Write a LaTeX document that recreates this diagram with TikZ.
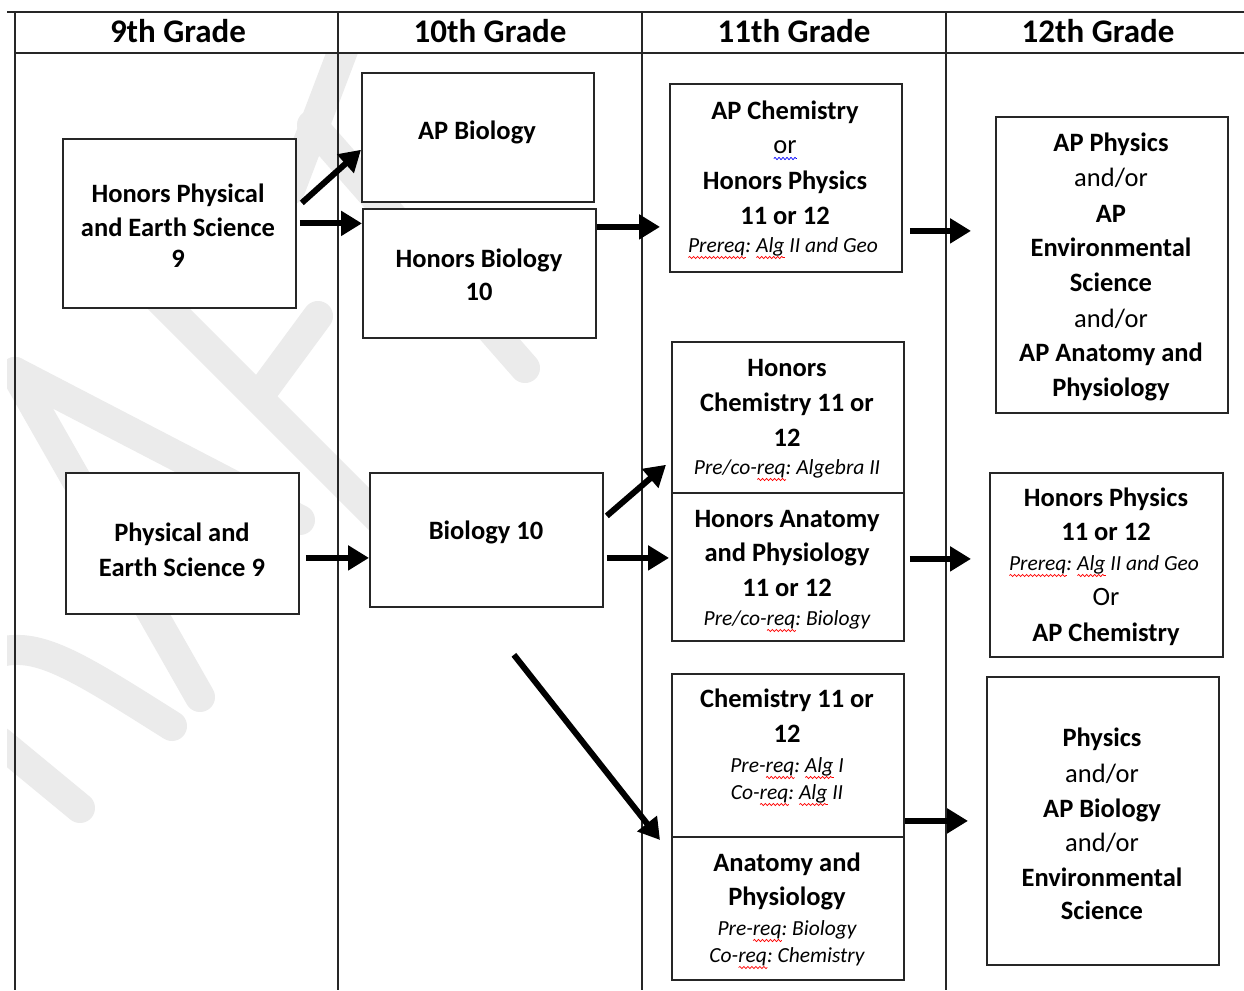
\documentclass[tikz,border=0pt]{standalone}
\usepackage{fontspec}
\setmainfont{Carlito}
\usetikzlibrary{arrows.meta,calc,decorations.pathmorphing}
\frenchspacing
\newsavebox\wvbox
\newlength\wvlen
\newcommand\wavy[2]{\sbox\wvbox{#2}\setlength\wvlen{\wd\wvbox}\rlap{\tikz[baseline=0pt]\draw[#1,line width=0.7pt,decorate,decoration={snake,amplitude=1.1pt,segment length=4pt}] (0pt,-5.5pt) -- (\wvlen,-5.5pt);}\usebox\wvbox}
\newcommand\rw[1]{\wavy{red}{#1}}
\newcommand\bw[1]{\wavy{blue}{#1}}
\begin{document}
\begin{tikzpicture}[x=1pt,y=-1pt,
  box/.style={draw=black!85, line width=1.8pt, fill=white, inner sep=0pt, anchor=north west},
  bt/.style={font=\fontsize{26.5}{30}\selectfont\bfseries\frenchspacing, anchor=base, inner sep=0pt},
  rt/.style={font=\fontsize{26.5}{30}\selectfont\frenchspacing, anchor=base, inner sep=0pt},
  it/.style={font=\fontsize{21.5}{26}\selectfont\itshape\frenchspacing, anchor=base, inner sep=0pt},
  hd/.style={font=\fontsize{33}{36}\selectfont\bfseries, anchor=base, inner sep=0pt},
  arr/.style={line width=6pt, draw=black, -{Triangle[length=21pt,width=24pt]}},
  wm/.style={line width=30pt, line cap=round, draw=black!8},
  gridline/.style={line width=1.8pt, draw=black!85}]
\fill[white] (0,0) rectangle (1244,990);
\useasboundingbox (0,0) rectangle (1244,990);
% watermark (partly hidden by the boxes)
\begin{scope}
  \clip (7,53) rectangle (1244,990);
  \draw[wm] (345,45) -- (290,190);
  \draw[wm] (312,125) -- (525,368);
  \draw[wm] (120,260) -- (420,560);
  \draw[wm] (262,392) -- (318,316);
  \draw[wm] (15,372) -- (200,697);
  \draw[wm] (15,372) -- (300,520);
  \draw[wm] (0,652) .. controls (40,642) and (80,668) .. (172,726);
  \draw[wm] (0,742) -- (80,808);
\end{scope}
% table grid
\draw[gridline] (7,12) -- (1244,12);
\draw[gridline] (15,53) -- (1244,53);
\draw[gridline] (15,12) -- (15,990);
\draw[gridline] (338,12) -- (338,990);
\draw[gridline] (642,12) -- (642,990);
\draw[gridline] (946,12) -- (946,990);
% headers
\node[hd] (h9) at (178,43) {9th Grade};
\node[hd] (h10) at (490,43) {10th Grade};
\node[hd] (h11) at (794,43) {11th Grade};
\node[hd] (h12) at (1098,43) {12th Grade};
% boxes
\node[box, minimum width=233pt, minimum height=169pt] (hpes) at (62,138) {};
\node[box, minimum width=232pt, minimum height=129pt] (apbio) at (361,72) {};
\node[box, minimum width=233pt, minimum height=129pt] (hbio) at (362,208) {};
\node[box, minimum width=233pt, minimum height=141pt] (pes) at (65,472) {};
\node[box, minimum width=233pt, minimum height=134pt] (bio) at (369,472) {};
\node[box, minimum width=232pt, minimum height=188pt] (apchem) at (669,83) {};
\node[box, minimum width=232pt, minimum height=151pt] (hchem) at (671,341) {};
\node[box, minimum width=232pt, minimum height=148pt] (hanat) at (671,492) {};
\node[box, minimum width=232pt, minimum height=163pt] (chem) at (671,673) {};
\node[box, minimum width=232pt, minimum height=143pt] (anat) at (671,836) {};
\node[box, minimum width=232pt, minimum height=296pt] (apphys) at (995,116) {};
\node[box, minimum width=233pt, minimum height=184pt] (hphys) at (989,472) {};
\node[box, minimum width=232pt, minimum height=288pt] (phys) at (986,676) {};
% arrows
\draw[arr] ([shift={(5pt,20.5pt)}]hpes.east) -- ([yshift=53pt]apbio.south west);
\draw[arr] ([xshift=3pt]hpes.east) -- (hbio.west |- hpes.east);
\draw[arr] ([shift={(6pt,-14.5pt)}]pes.east) -- ([yshift=-18pt]bio.west);
\draw[arr] ([yshift=46.5pt]hbio.east) -- ([shift={(-9pt,-49pt)}]apchem.west);
\draw[arr] ([shift={(3pt,24pt)}]bio.east) -- ([shift={(-5pt,29pt)}]hchem.south west);
\draw[arr] ([shift={(3pt,-18pt)}]bio.east) -- ([shift={(-2pt,9pt)}]hanat.west);
\draw[arr] ([shift={(27.5pt,-47pt)}]bio.south) -- ([shift={(-11pt,-4pt)}]anat.north west);
\draw[arr] ([shift={(7pt,-53pt)}]apchem.east) -- ([shift={(-24pt,34pt)}]apphys.west);
\draw[arr] ([shift={(5pt,8pt)}]hanat.east) -- ([shift={(-18pt,6pt)}]hphys.west);
\draw[arr] ([yshift=-65.5pt]chem.east) -- ([xshift=-18pt]phys.west);
% texts: 9th grade
\node[bt] (t1) at (178,202) {Honors Physical};
\node[bt] (t2) at (178,236) {and Earth Science};
\node[bt] (t3) at (178,267) {9};
\node[bt] (t4) at (182,541) {Physical and};
\node[bt] (t5) at (182,576) {Earth Science 9};
% 10th grade
\node[bt] (t6) at (477,139) {AP Biology};
\node[bt] (t7) at (479,267) {Honors Biology};
\node[bt] (t8) at (479,300) {10};
\node[bt] (t9) at (486,539) {Biology 10};
% 11th grade
\node[bt] (t10) at (785,119) {AP Chemistry};
\node[rt] (t11) at (785,153) {\bw{or}};
\node[bt] (t12) at (785,189) {Honors Physics};
\node[bt] (t13) at (785,224) {11 or 12};
\node[it] (t14) at (783,252) {\rw{Prereq}: \rw{Alg} II and Geo};
\node[bt] (t15) at (787,376) {Honors};
\node[bt] (t16) at (787,411) {Chemistry 11 or};
\node[bt] (t17) at (787,446) {12};
\node[it] (t18) at (787,474) {Pre/co-\rw{req}: Algebra II};
\node[bt] (t19) at (787,527) {Honors Anatomy};
\node[bt] (t20) at (787,561) {and Physiology};
\node[bt] (t21) at (787,596) {11 or 12};
\node[it] (t22) at (787,625) {Pre/co-\rw{req}: Biology};
\node[bt] (t23) at (787,707) {Chemistry 11 or};
\node[bt] (t24) at (787,742) {12};
\node[it] (t25) at (787,772) {Pre-\rw{req}: \rw{Alg} I};
\node[it] (t26) at (787,799) {Co-\rw{req}: \rw{Alg} II};
\node[bt] (t27) at (787,871) {Anatomy and};
\node[bt] (t28) at (787,905) {Physiology};
\node[it] (t29) at (787,935) {Pre-\rw{req}: Biology};
\node[it] (t30) at (787,962) {Co-\rw{req}: Chemistry};
% 12th grade
\node[bt] (t31) at (1111,151) {AP Physics};
\node[rt] (t32) at (1111,186) {and/or};
\node[bt] (t33) at (1111,222) {AP};
\node[bt] (t34) at (1111,256) {Environmental};
\node[bt] (t35) at (1111,291) {Science};
\node[rt] (t36) at (1111,327) {and/or};
\node[bt] (t37) at (1111,361) {AP Anatomy and};
\node[bt] (t38) at (1111,396) {Physiology};
\node[bt] (t39) at (1106,506) {Honors Physics};
\node[bt] (t40) at (1106,540) {11 or 12};
\node[it] (t41) at (1104,570) {\rw{Prereq}: \rw{Alg} II and Geo};
\node[rt] (t42) at (1106,605) {Or};
\node[bt] (t43) at (1106,641) {AP Chemistry};
\node[bt] (t44) at (1102,746) {Physics};
\node[rt] (t45) at (1102,782) {and/or};
\node[bt] (t46) at (1102,817) {AP Biology};
\node[rt] (t47) at (1102,851) {and/or};
\node[bt] (t48) at (1102,886) {Environmental};
\node[bt] (t49) at (1102,919) {Science};
\end{tikzpicture}
\end{document}
